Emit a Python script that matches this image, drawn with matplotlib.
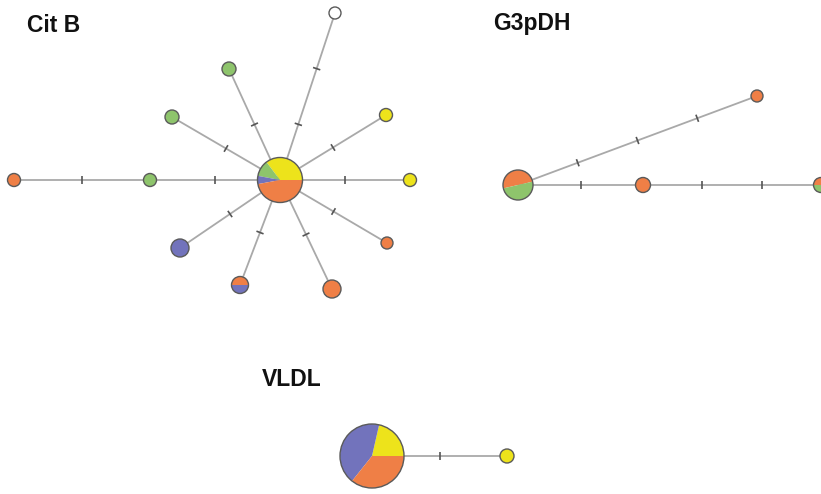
import matplotlib
matplotlib.use("Agg")
import matplotlib.pyplot as plt
from matplotlib.patches import Wedge, Circle
import numpy as np

# ---------------- data ----------------
groups = ["Cit B", "G3pDH", "VLDL"]
pop_colors = {"yellow": "#EDE31B", "green": "#8EC46C", "blue": "#7273BC",
              "orange": "#EF7F46", "none": "#FFFFFF"}

# Cit B haplotypes: composition (counter-clockwise from 3 o'clock)
citb_comp = [
    [("yellow", 6), ("green", 2), ("blue", 1), ("orange", 8)],  # central
    [("none", 1)],
    [("green", 1)],
    [("green", 1)],
    [("yellow", 1)],
    [("yellow", 1)],
    [("orange", 1)],
    [("orange", 2)],
    [("orange", 1), ("blue", 1)],
    [("blue", 2)],
    [("green", 1)],
    [("orange", 1)],
]
citb_edges = [(0, 1), (0, 2), (0, 3), (0, 4), (0, 5), (0, 6), (0, 7), (0, 8),
              (0, 9), (0, 10), (10, 11)]
citb_mut = [2, 1, 1, 1, 1, 1, 1, 1, 1, 1, 1]

g3_comp = [
    [("orange", 1), ("green", 1)],
    [("orange", 1)],
    [("orange", 1)],
    [("orange", 1), ("green", 1)],
]
g3_edges = [(0, 1), (0, 2), (2, 3)]
g3_mut = [3, 1, 2]

vldl_comp = [
    [("yellow", 3), ("blue", 6), ("orange", 5)],
    [("yellow", 1)],
]
vldl_edges = [(0, 1)]
vldl_mut = [1]

# ---------------- layout (pixel positions, radii, pie start angles) ----------------
citb_pos = [(280, 180), (335, 13), (229, 69), (172, 117), (386, 115), (410, 180),
            (387, 243), (332, 289), (240, 285), (180, 248), (150, 180), (14, 180)]
citb_rad = [22.5, 6, 7, 7, 6.5, 6.5, 6, 9, 8.5, 9, 6.5, 6.5]
citb_start = [0] * 12

g3_pos = [(518, 185), (757, 96), (643, 185), (821, 185)]
g3_rad = [15, 6, 7.5, 7.5]
g3_start = [13, 0, 0, 0]

vldl_pos = [(372, 456), (507, 456)]
vldl_rad = [32, 7]
vldl_start = [0, 0]

W, H = 821, 494
fig = plt.figure(figsize=(W / 100, H / 100), dpi=100)
ax = fig.add_axes([0, 0, 1, 1])
ax.set_xlim(0, W)
ax.set_ylim(H, 0)
ax.axis("off")

line_col = "#A9A9A9"
tick_col = "#555555"
edge_col = "#5A5A5A"


def draw_net(pos, rad, comp, edges, muts, starts):
    for (a, b), m in zip(edges, muts):
        x0, y0 = pos[a]
        x1, y1 = pos[b]
        ax.plot([x0, x1], [y0, y1], color=line_col, lw=1.3, zorder=1,
                solid_capstyle="butt")
        dx, dy = x1 - x0, y1 - y0
        L = np.hypot(dx, dy)
        px, py = -dy / L, dx / L
        for k in range(1, m + 1):
            t = k / (m + 1)
            cx, cy = x0 + dx * t, y0 + dy * t
            h = 3.8
            ax.plot([cx - px * h, cx + px * h], [cy - py * h, cy + py * h],
                    color=tick_col, lw=1.2, zorder=2, solid_capstyle="butt")
    for (x, y), r, parts, st in zip(pos, rad, comp, starts):
        total = sum(c for _, c in parts)
        a = st
        for col, c in parts:
            span = 360.0 * c / total
            # y axis inverted: screen ccw angle a -> data angle -a
            w = Wedge((x, y), r, -(a + span), -a, facecolor=pop_colors[col],
                      edgecolor="none", lw=0, zorder=3)
            ax.add_patch(w)
            a += span
        ax.add_patch(Circle((x, y), r, facecolor="none", edgecolor=edge_col,
                            lw=1.0, zorder=4))


draw_net(citb_pos, citb_rad, citb_comp, citb_edges, citb_mut, citb_start)
draw_net(g3_pos, g3_rad, g3_comp, g3_edges, g3_mut, g3_start)
draw_net(vldl_pos, vldl_rad, vldl_comp, vldl_edges, vldl_mut, vldl_start)

title_pos = [(27, 32), (493, 30), (262, 386)]
for t, (x, y) in zip(groups, title_pos):
    ax.text(x, y, t, fontsize=16.5, fontweight="bold", family="Liberation Sans",
            ha="left", va="baseline", color="#111111")

fig.savefig("out.png", dpi=100)
